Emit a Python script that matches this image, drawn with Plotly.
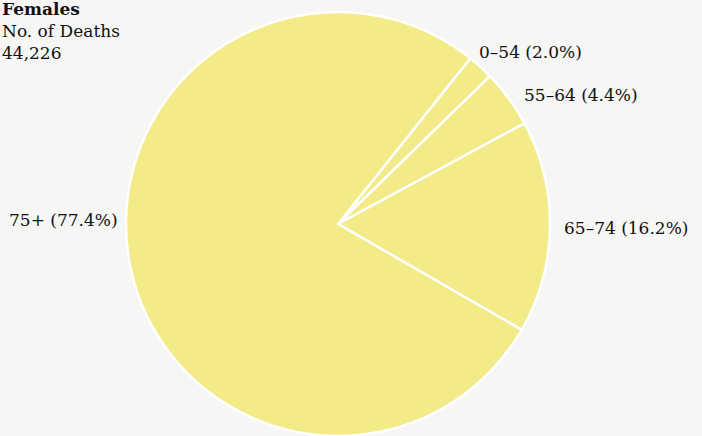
import plotly.graph_objects as go

groups = ["0–54", "55–64", "65–74", "75+"]
shares = [2.0, 4.4, 16.2, 77.4]
title_lines = ["<b>Females</b>", "No. of Deaths", "44,226"]

FONT = "DejaVu Serif"
fig = go.Figure(go.Pie(
    labels=groups, values=shares, sort=False, direction="clockwise",
    rotation=38.6, textinfo="none", hoverinfo="label+percent",
    marker=dict(colors=["#f3ea88"] * 4, line=dict(color="#ffffff", width=2.5)),
    domain=dict(x=[0.1795, 0.7835], y=[0.0, 0.9725]),
    showlegend=False,
))

label_pos = {
    "0–54": (477, 52),
    "55–64": (522, 95),
    "65–74": (562, 228),
    "75+": (7, 220),
}
W, H = 702, 436
for g, s in zip(groups, shares):
    x, y = label_pos[g]
    fig.add_annotation(x=x / W, y=1 - y / H, xref="paper", yref="paper",
                       xanchor="left", yanchor="middle", showarrow=False,
                       text=f"{g} ({s:.1f}%)",
                       font=dict(family=FONT, size=17, color="#111111"))

fig.add_annotation(x=0, y=1 - 31 / H, xref="paper", yref="paper",
                   xanchor="left", yanchor="middle", showarrow=False, align="left",
                   text="<br>".join(title_lines),
                   font=dict(family=FONT, size=17, color="#111111"))

fig.update_layout(width=W, height=H, margin=dict(l=0, r=0, t=0, b=0),
                  paper_bgcolor="#f6f6f4", plot_bgcolor="#f6f6f4")
fig.write_html("out.html")
